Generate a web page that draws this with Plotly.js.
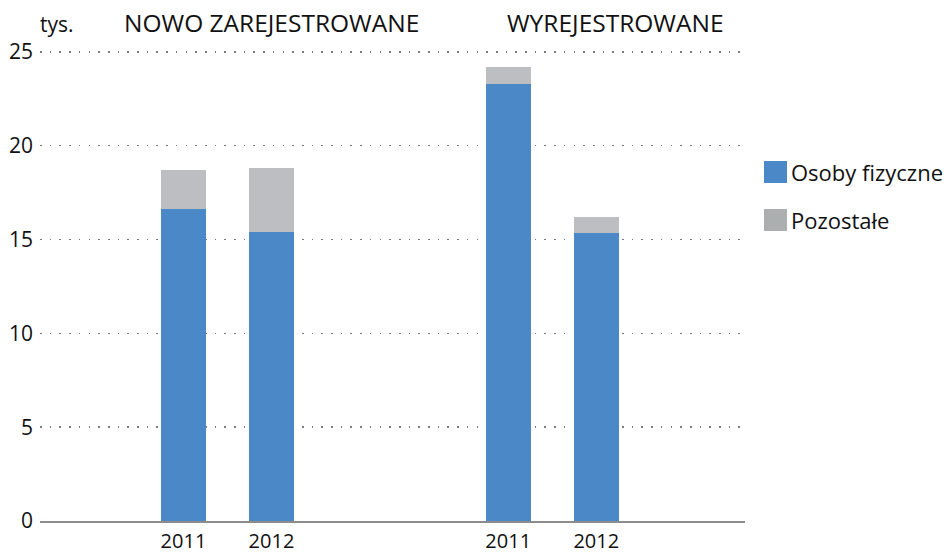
<!DOCTYPE html>
<html><head><meta charset="utf-8">
<script src="https://cdn.plot.ly/plotly-3.0.1.min.js"></script>
<style>body{margin:0;background:#fff}#c{width:946px;height:556px}</style>
</head><body><div id="c"></div>
<script>
const groups = ["NOWO ZAREJESTROWANE", "WYREJESTROWANE"];
const years = ["2011", "2012"];
const seriesNames = ["Osoby fizyczne", "Pozostałe"];
const osobyFizyczne = [16.65, 15.4, 23.3, 15.35];
const pozostale = [2.05, 3.4, 0.9, 0.85];
const unitLabel = "tys.";
const yTicks = [0, 5, 10, 15, 20, 25];

const colors = ["#4A88C7", "#BDBEC2"];
const legendColors = ["#4A88C7", "#ABAFAF"];
const groupGap = 3.69;
const pos = [], labels = [];
groups.forEach((g, gi) => years.forEach((y, yi) => { pos.push(gi * groupGap + yi); labels.push(y); }));

const font = "'Open Sans', 'Liberation Sans', sans-serif";
const traces = [osobyFizyczne, pozostale].map((vals, i) => ({
  type: "bar", x: pos, y: vals, name: seriesNames[i],
  marker: {color: colors[i], line: {width: 0}}, width: 0.51,
  showlegend: false, hoverinfo: "none"
}));

const T = 49, B = 521, H = B - T;
const py = px => (B - px) / H;
const annotations = [
  {text: unitLabel, xref: "paper", yref: "paper", x: -0.003, y: py(40), xanchor: "left", yanchor: "bottom", showarrow: false, font: {family: font, size: 21, color: "#111"}},
  {text: groups[0], xref: "x", yref: "paper", x: pos[0] - 0.7, y: py(41), xanchor: "left", yanchor: "bottom", showarrow: false, font: {family: font, size: 24.5, color: "#111"}},
  {text: groups[1], xref: "x", yref: "paper", x: pos[2] - 0.04, y: py(41), xanchor: "left", yanchor: "bottom", showarrow: false, font: {family: font, size: 24.5, color: "#111"}}
];
const shapes = [];
seriesNames.forEach((n, i) => {
  const yc = 172 + i * 48;
  shapes.push({type: "rect", xref: "paper", yref: "paper", layer: "above",
    x0: (764 - 40) / 705, x1: (787 - 40) / 705,
    y0: py(yc + 11), y1: py(yc - 11),
    fillcolor: legendColors[i], line: {width: 0}});
  annotations.push({text: n, xref: "paper", yref: "paper", x: (789 - 40) / 705, y: py(yc),
    xanchor: "left", yanchor: "middle", showarrow: false, font: {family: font, size: 22, color: "#111"}});
});

const layout = {
  width: 946, height: 556,
  margin: {l: 40, r: 201, t: T, b: 556 - B},
  paper_bgcolor: "#fff", plot_bgcolor: "#fff",
  barmode: "stack", showlegend: false,
  xaxis: {range: [pos[0] - 1.63, pos[3] + 1.69], tickvals: pos, ticktext: labels,
    showgrid: false, zeroline: false, showline: true, linecolor: "#8C8C8C", linewidth: 2,
    ticks: "", tickfont: {family: font, size: 20, color: "#111"}, ticklabelstandoff: 1},
  yaxis: {range: [0, 25.15], tickvals: yTicks, showgrid: true, gridcolor: "#7a7a7a", gridwidth: 1.6,
    griddash: "1.6px,8.1px", zeroline: false, showline: false, ticks: "",
    tickfont: {family: font, size: 21, color: "#111"}, ticklabelstandoff: 6},
  annotations, shapes
};
Plotly.newPlot("c", traces, layout, {staticPlot: true});
</script></body></html>
